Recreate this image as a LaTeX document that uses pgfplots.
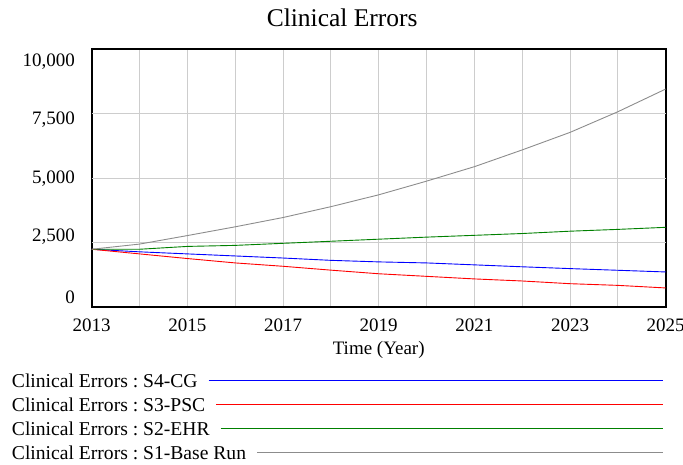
\documentclass[border=0pt]{standalone}
\usepackage{fontspec}
\setmainfont{Liberation Serif}
\newfontfamily\titlefont{Liberation Serif}
\usepackage{pgfplots}
\pgfplotsset{compat=1.18}
\usepackage{pgfplotstable}
\definecolor{vblue}{RGB}{0,0,255}
\definecolor{vred}{RGB}{255,0,0}
\definecolor{vgreen}{RGB}{0,128,0}
\definecolor{vgray}{RGB}{140,140,140}
\definecolor{gridgray}{RGB}{205,205,205}

\pgfplotstableread{
year  base  ehr   psc   cg
2013  2250  2250  2250  2250
2014  2450  2250  2070  2150
2015  2780  2360  1890  2070
2016  3120  2400  1720  1990
2017  3480  2480  1590  1910
2018  3900  2560  1440  1820
2019  4360  2640  1300  1760
2020  4890  2720  1200  1720
2021  5450  2790  1100  1645
2022  6100  2860  1020  1570
2023  6780  2950   915  1500
2024  7580  3020   850  1435
2025  8460  3100   750  1370
}\errors

\pgfplotsset{vleg/.style={legend image code/.code={%
  \path[draw=none, fill=none] (0pt,-12pt) rectangle (1pt,12pt);
  \coordinate (o) at (0pt,0pt);
  \node[anchor=base west, inner sep=0pt, text=black, draw=none, fill=none,
        font=\fontsize{19.6pt}{23pt}\selectfont] (t) at (0pt,-7.3pt) {#1};
  \draw[##1] ([xshift=11pt]t.east |- o) -- (651pt,0pt);
}}}

\begin{document}
\frenchspacing
\fontsize{19pt}{23pt}\selectfont
\begin{tikzpicture}
\useasboundingbox (0,0) rectangle (683pt,464pt);
\begin{axis}[
  at={(91.7pt,156.7pt)}, anchor=south west,
  scale only axis, width=574pt, height=258pt,
  xmin=2013, xmax=2025, ymin=0, ymax=10000,
  scaled y ticks=false, scaled x ticks=false,
  xtick={2013,2015,...,2025},
  minor xtick={2014,2016,...,2024},
  xmajorgrids=true, xminorgrids=true,
  ytick={390,2723,4988,7266,9531},
  yticklabels={0,{2,500},{5,000},{7,500},{10,000}},
  extra y ticks={2500,5000,7500},
  extra y tick labels={},
  extra y tick style={ymajorgrids=true},
  major tick length=0pt, minor tick length=0pt,
  grid style={gridgray, line width=1pt},
  minor grid style={gridgray, line width=1pt},
  axis line style={black, line width=2pt},
  /pgf/number format/assume math mode=true,
  /pgf/number format/1000 sep={},
  xticklabel style={inner sep=0pt, anchor=north, yshift=-11pt},
  yticklabel style={inner sep=0pt, anchor=east, xshift=-16.7pt},
  xlabel={Time (Year)},
  xlabel style={at={(axis description cs:0.5,0)}, anchor=north, inner sep=0pt, yshift=-34pt},
  title={\titlefont\fontsize{25.5pt}{30pt}\selectfont Clinical Errors},
  title style={at={(axis description cs:0.4364,1)}, anchor=base, inner sep=0pt, yshift=17.3pt},
  legend style={at={(axis description cs:-0.1389,-0.2353)}, anchor=north west,
    draw=none, fill=none, inner sep=0pt, outer sep=0pt, row sep=0pt,
    nodes={inner sep=0pt}},
  legend cell align=left,
]
\addplot[vblue, line width=0.9pt, vleg={Clinical Errors : S4-CG}] table[x=year, y=cg] {\errors};
\addlegendentry{\mbox{}}
\addplot[vred, line width=0.9pt, vleg={Clinical Errors : S3-PSC}] table[x=year, y=psc] {\errors};
\addlegendentry{\mbox{}}
\addplot[vgreen, line width=0.9pt, vleg={Clinical Errors : S2-EHR}] table[x=year, y=ehr] {\errors};
\addlegendentry{\mbox{}}
\addplot[vgray, line width=0.9pt, vleg={Clinical Errors : S1-Base Run}] table[x=year, y=base] {\errors};
\addlegendentry{\mbox{}}
\end{axis}
\end{tikzpicture}
\end{document}
